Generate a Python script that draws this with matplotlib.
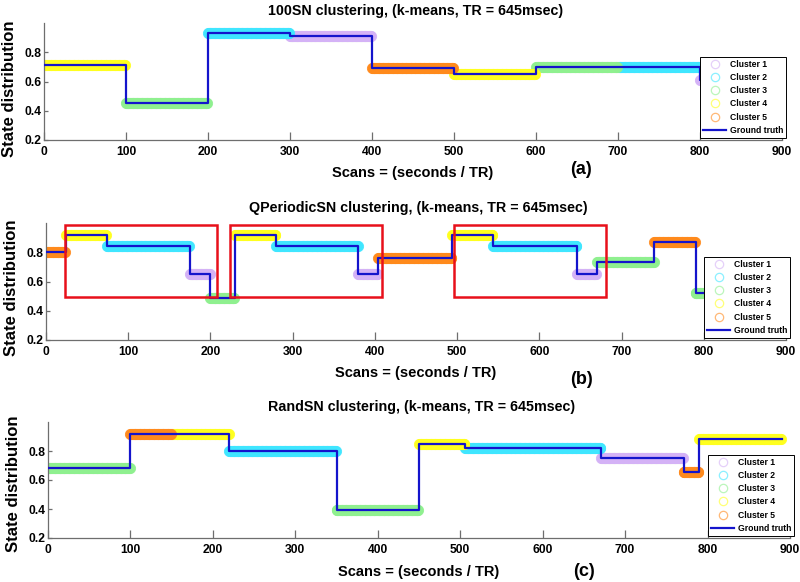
import numpy as np
import matplotlib
matplotlib.use("Agg")
import matplotlib.pyplot as plt
from matplotlib.lines import Line2D
from matplotlib.patches import Rectangle

plt.rcParams["font.family"] = ["Liberation Sans", "DejaVu Sans"]
plt.rcParams["font.weight"] = "bold"

# ---------- data: step segments (start scan, end scan, level, cluster) ----------
a_start = [0, 100, 200, 300, 400, 500, 600, 700, 800]
a_end = [100, 200, 300, 400, 500, 600, 700, 800, 890]
a_level = [0.71, 0.45, 0.93, 0.91, 0.69, 0.65, 0.70, 0.70, 0.61]
a_cluster = [4, 3, 2, 1, 5, 4, 3, 2, 1]

b_start = [0, 24, 74, 175, 200, 230, 280, 380, 404, 494, 544, 646, 670, 740, 790]
b_end = [24, 74, 175, 200, 230, 280, 380, 404, 494, 544, 646, 670, 740, 790, 890]
b_level = [0.80, 0.92, 0.84, 0.65, 0.49, 0.92, 0.84, 0.65, 0.76,
           0.92, 0.84, 0.65, 0.73, 0.87, 0.52]
b_cluster = [5, 4, 2, 1, 3, 4, 2, 1, 5, 4, 2, 1, 3, 5, 3]
# highlighted repeating pattern (x0, x1) in scans, y range shared
b_box_x0 = [23, 224, 496]
b_box_x1 = [208, 409, 681]
b_box_y = (0.495, 0.985)

c_start = [0, 100, 150, 220, 350, 450, 506, 671, 771, 790]
c_end = [100, 150, 220, 350, 450, 506, 671, 771, 790, 890]
c_level = [0.68, 0.92, 0.92, 0.80, 0.39, 0.85, 0.82, 0.75, 0.655, 0.88]
c_cluster = [3, 5, 4, 2, 3, 4, 2, 1, 5, 4]

cluster_names = ["Cluster 1", "Cluster 2", "Cluster 3", "Cluster 4", "Cluster 5"]
cluster_colors = ["#d4b2f6", "#3fe6ff", "#8ff08f", "#ffff1e", "#ff8a1c"]
gt_color = "#1414cc"
axis_gray = "#6e6e6e"

panels = [
    dict(name="100SN", tag="(a)", start=a_start, end=a_end, level=a_level,
         cluster=a_cluster, rect=[44 / 800, 1 - 140 / 582, 738 / 800, 117 / 582],
         title_y=1.105, xlab_y=-0.282, ylab_y=0.44, tag_pos=(0.728, -0.256)),
    dict(name="QPeriodicSN", tag="(b)", start=b_start, end=b_end, level=b_level,
         cluster=b_cluster, rect=[46 / 800, 1 - 340 / 582, 740 / 800, 117 / 582],
         title_y=1.128, xlab_y=-0.282, ylab_y=0.45, tag_pos=(0.724, -0.34)),
    dict(name="RandSN", tag="(c)", start=c_start, end=c_end, level=c_level,
         cluster=c_cluster, rect=[48 / 800, 1 - 538 / 582, 742 / 800, 116 / 582],
         title_y=1.129, xlab_y=-0.293, ylab_y=0.47, tag_pos=(0.722, -0.293)),
]

fig = plt.figure(figsize=(8, 5.82), dpi=100)

for i, p in enumerate(panels):
    ax = fig.add_axes(p["rect"])

    # cluster assignment per scan: one circle per scan
    for k in range(1, 6):
        xs, ys = [], []
        for s, e, lv, cl in zip(p["start"], p["end"], p["level"], p["cluster"]):
            if cl == k:
                xs.append(np.arange(s, e))
                ys.append(np.full(e - s, lv))
        if xs:
            ax.plot(np.concatenate(xs), np.concatenate(ys), "o", ms=7.4,
                    mfc=cluster_colors[k - 1], mec=cluster_colors[k - 1],
                    mew=0.6, alpha=0.9, zorder=2)

    # ground truth step line
    gx = list(p["start"]) + [p["end"][-1]]
    gy = list(p["level"]) + [p["level"][-1]]
    ax.plot(gx, gy, drawstyle="steps-post", color=gt_color, lw=1.6, zorder=3)

    if i == 1:
        for x0, x1 in zip(b_box_x0, b_box_x1):
            ax.add_patch(Rectangle((x0, b_box_y[0]), x1 - x0, b_box_y[1] - b_box_y[0],
                                   fill=False, ec="#e8101a", lw=1.8, zorder=4))

    ax.set_xlim(0, 900)
    ax.set_ylim(0.2, 1.0)
    ax.set_xticks(np.arange(0, 901, 100))
    ax.set_yticks([0.2, 0.4, 0.6, 0.8])
    ax.set_yticklabels(["0.2", "0.4", "0.6", "0.8"])
    for sp in ["top", "right"]:
        ax.spines[sp].set_visible(False)
    for sp in ["left", "bottom"]:
        ax.spines[sp].set_color(axis_gray)
        ax.spines[sp].set_linewidth(0.9)
    ax.tick_params(axis="x", direction="in", length=6, width=0.9, color=axis_gray,
                   labelsize=8.7, pad=4)
    ax.tick_params(axis="y", direction="in", length=3, width=0.9, color=axis_gray,
                   labelsize=8.7, pad=1.5)
    for lab in ax.get_xticklabels() + ax.get_yticklabels():
        lab.set_fontweight("bold")

    ax.text(0.503, p["title_y"], f"{p['name']} clustering, (k-means, TR = 645msec)",
            transform=ax.transAxes, ha="center", va="center", fontsize=10.3,
            fontweight="bold")
    ax.set_xlabel("Scans = (seconds / TR)", fontsize=10.5, fontweight="bold")
    ax.xaxis.set_label_coords(0.5, p["xlab_y"])
    ax.xaxis.label.set_va("center")
    ax.set_ylabel("State distribution", fontsize=12, fontweight="bold")
    ax.yaxis.set_label_coords(-0.047, p["ylab_y"])
    ax.yaxis.label.set_va("center")
    ax.text(p["tag_pos"][0], p["tag_pos"][1], p["tag"], transform=ax.transAxes,
            ha="center", va="center", fontsize=13, fontweight="bold")

    handles = [Line2D([], [], ls="none", marker="o", ms=6, mfc="none",
                      mec=c, mew=0.9, alpha=0.6) for c in cluster_colors]
    handles.append(Line2D([], [], color=gt_color, lw=1.6))
    leg = ax.legend(handles, cluster_names + ["Ground truth"], loc="lower right",
                    bbox_to_anchor=(1.006, 0.02), fontsize=6.2, frameon=True,
                    fancybox=False, framealpha=1, edgecolor="black",
                    handlelength=2.7, handletextpad=0.5, labelspacing=0.5,
                    borderpad=0.3, borderaxespad=0.0)
    leg.get_frame().set_linewidth(0.7)
    leg.set_zorder(10)
    for t in leg.get_texts():
        t.set_fontweight("bold")

fig.savefig("out.png", dpi=100)
